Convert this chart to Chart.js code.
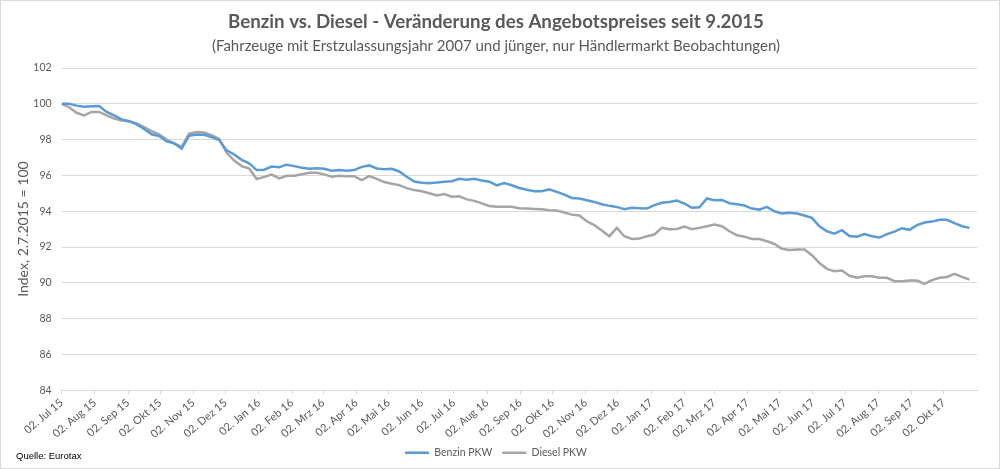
<!DOCTYPE html>
<html>
<head>
<meta charset="utf-8">
<script src="https://cdn.jsdelivr.net/npm/chart.js@4/dist/chart.umd.min.js"></script>
<style>
    body { margin: 0; background: #fff; }
    #wrap { position: relative; width: 1000px; height: 469px; box-sizing: border-box; border: 1px solid #d9d9d9; }
    #quelle { position: absolute; left: 15px; top: 449px; font: 9.5px "Liberation Sans", Arial, sans-serif; color: #000; }
</style>
</head>
<body>
<div id="wrap">
    <canvas id="lineChart" width="998" height="467"></canvas>
    <div id="quelle">Quelle: Eurotax</div>
</div>
<script>
// weekly observations, first one on 02.07.2015
const startDate = Date.UTC(2015, 6, 2);
const benzin = [
    100.0, 100.0, 99.9, 99.84, 99.87, 99.88, 99.55, 99.35, 99.13, 99.03,
    98.85, 98.6, 98.3, 98.2, 97.9, 97.8, 97.5, 98.22, 98.29, 98.27,
    98.14, 97.98, 97.4, 97.17, 96.87, 96.68, 96.3, 96.32, 96.5, 96.46,
    96.6, 96.52, 96.43, 96.37, 96.4, 96.37, 96.26, 96.3, 96.26, 96.3,
    96.48, 96.56, 96.39, 96.35, 96.37, 96.22, 95.93, 95.66, 95.59, 95.57,
    95.61, 95.65, 95.68, 95.81, 95.76, 95.81, 95.72, 95.65, 95.44, 95.57,
    95.45, 95.3, 95.2, 95.12, 95.12, 95.23, 95.08, 94.93, 94.74, 94.71,
    94.61, 94.52, 94.39, 94.3, 94.24, 94.11, 94.19, 94.17, 94.15, 94.34,
    94.47, 94.52, 94.6, 94.43, 94.19, 94.22, 94.71, 94.61, 94.63, 94.45,
    94.39, 94.32, 94.15, 94.09, 94.24, 94.0, 93.87, 93.91, 93.87, 93.76,
    93.63, 93.16, 92.88, 92.75, 92.94, 92.62, 92.58, 92.72, 92.6, 92.53,
    92.72, 92.86, 93.05, 92.96, 93.22, 93.37, 93.42, 93.52, 93.52, 93.33,
    93.16, 93.07
];
const diesel = [
    100.0, 99.81, 99.5, 99.35, 99.55, 99.55, 99.35, 99.18, 99.07, 99.03,
    98.9, 98.7, 98.47, 98.29, 98.0, 97.78, 97.6, 98.34, 98.42, 98.4,
    98.25, 98.04, 97.26, 96.83, 96.52, 96.39, 95.8, 95.92, 96.05, 95.83,
    95.98, 95.98, 96.07, 96.15, 96.15, 96.06, 95.93, 95.98, 95.96, 95.96,
    95.74, 95.96, 95.81, 95.63, 95.53, 95.46, 95.29, 95.18, 95.12, 95.0,
    94.88, 94.96, 94.81, 94.83, 94.66, 94.58, 94.44, 94.29, 94.25, 94.25,
    94.25, 94.17, 94.15, 94.13, 94.11, 94.06, 94.04, 93.93, 93.81, 93.76,
    93.44, 93.22, 92.92, 92.6, 93.07, 92.6, 92.45, 92.47, 92.6, 92.7,
    93.07, 92.99, 93.01, 93.14, 92.99, 93.07, 93.16, 93.26, 93.16, 92.88,
    92.66, 92.58, 92.45, 92.45, 92.32, 92.17, 91.9, 91.84, 91.86, 91.86,
    91.54, 91.11, 90.78, 90.65, 90.69, 90.39, 90.28, 90.37, 90.37, 90.28,
    90.28, 90.09, 90.09, 90.13, 90.13, 89.94, 90.15, 90.28, 90.33, 90.5,
    90.33, 90.18
];
const tickLabels = [
    '02. Jul 15', '02. Aug 15', '02. Sep 15', '02. Okt 15', '02. Nov 15', '02. Dez 15',
    '02. Jan 16', '02. Feb 16', '02. Mrz 16', '02. Apr 16', '02. Mai 16', '02. Jun 16',
    '02. Jul 16', '02. Aug 16', '02. Sep 16', '02. Okt 16', '02. Nov 16', '02. Dez 16',
    '02. Jan 17', '02. Feb 17', '02. Mrz 17', '02. Apr 17', '02. Mai 17', '02. Jun 17',
    '02. Jul 17', '02. Aug 17', '02. Sep 17', '02. Okt 17'
];

const DAY = 86400000;
// day offsets of the monthly ticks (02. of every month)
const tickDays = tickLabels.map(function(_, m) {
    return (Date.UTC(2015, 6 + m, 2) - startDate) / DAY;
});
const axisEnd = (Date.UTC(2017, 10, 2) - startDate) / DAY;

function toPoints(values) {
    return values.map(function(v, i) { return { x: i * 7, y: v }; });
}

const font = 'Lato, "Open Sans", sans-serif';
const grey = '#595959';

const ctx = document.getElementById('lineChart').getContext('2d');

new Chart(ctx, {
    type: 'line',
    data: {
        datasets: [{
            label: 'Benzin PKW',
            data: toPoints(benzin),
            borderColor: '#5B9BD5',
            backgroundColor: '#5B9BD5',
            borderWidth: 2.5,
            pointRadius: 0,
            tension: 0
        }, {
            label: 'Diesel PKW',
            data: toPoints(diesel),
            borderColor: '#A5A5A5',
            backgroundColor: '#A5A5A5',
            borderWidth: 2.5,
            pointRadius: 0,
            tension: 0
        }]
    },
    options: {
        responsive: false,
        animation: false,
        layout: {
            padding: { left: 14, right: 22, top: 6, bottom: 0 }
        },
        plugins: {
            title: {
                display: true,
                text: 'Benzin vs. Diesel - Veränderung des Angebotspreises seit 9.2015',
                color: grey,
                font: { family: font, size: 18.7, weight: 'bold' },
                padding: { top: 4, bottom: 4 }
            },
            subtitle: {
                display: true,
                text: '(Fahrzeuge mit Erstzulassungsjahr 2007 und jünger, nur Händlermarkt Beobachtungen)',
                color: grey,
                font: { family: font, size: 15 },
                padding: { bottom: 12.6 }
            },
            legend: {
                position: 'bottom',
                labels: {
                    color: grey,
                    font: { family: font, size: 10.5 },
                    usePointStyle: true,
                    pointStyle: 'line',
                    pointStyleWidth: 24,
                    padding: 10
                }
            },
            tooltip: { enabled: false }
        },
        scales: {
            x: {
                type: 'linear',
                min: 0,
                max: axisEnd,
                afterBuildTicks: function(scale) {
                    scale.ticks = tickDays.map(function(d) { return { value: d }; });
                },
                afterFit: function(scale) {
                    scale.height = 47.3;
                },
                grid: {
                    drawOnChartArea: false,
                    color: '#d9d9d9',
                    tickLength: 4
                },
                border: { display: true, color: '#d9d9d9' },
                ticks: {
                    autoSkip: false,
                    color: grey,
                    font: { family: font, size: 11 },
                    maxRotation: 40,
                    minRotation: 40,
                    padding: 2,
                    callback: function(value, index) {
                        return tickLabels[index];
                    }
                }
            },
            y: {
                min: 84,
                max: 102,
                afterFit: function(scale) {
                    scale.width = 46.6;
                },
                ticks: {
                    stepSize: 2,
                    color: grey,
                    font: { family: font, size: 10.5 },
                    padding: 10
                },
                grid: {
                    color: '#d9d9d9',
                    drawTicks: false
                },
                border: { display: false },
                title: {
                    display: true,
                    text: 'Index, 2.7.2015 = 100',
                    color: grey,
                    font: { family: font, size: 14 },
                    padding: { top: 0, bottom: 2 }
                }
            }
        }
    }
});
</script>
</body>
</html>
